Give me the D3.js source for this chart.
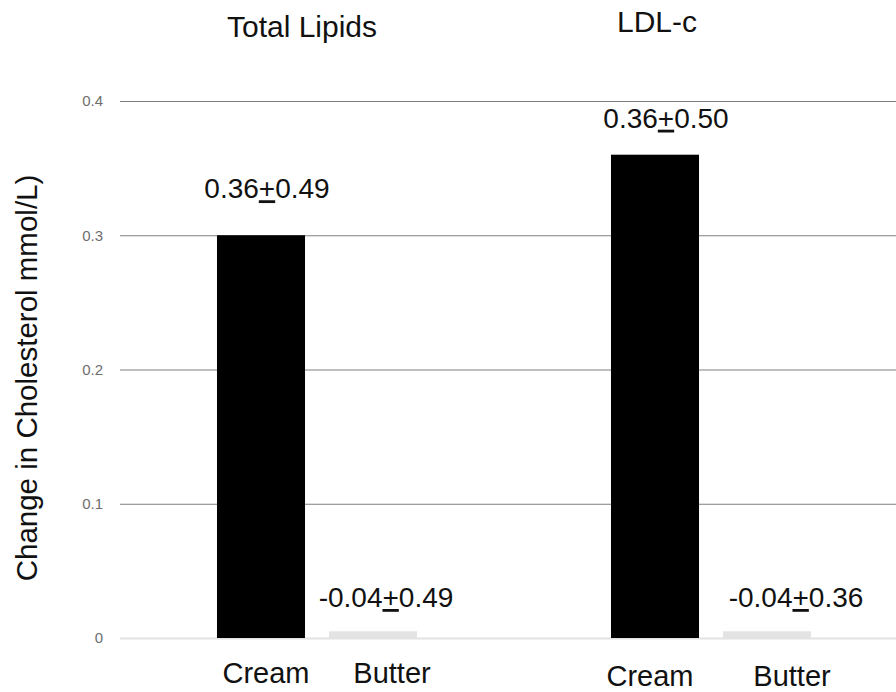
<!DOCTYPE html>
<html>
<head>
<meta charset="utf-8">
<script src="https://cdn.jsdelivr.net/npm/d3@7"></script>
<style>
  body { margin: 0; background: #fff; }
  svg { display: block; font-family: "Liberation Sans", Arial, sans-serif; }
</style>
</head>
<body>
<svg id="chart" width="896" height="692"></svg>
<script>
// data
const groups = ["Total Lipids", "LDL-c"];
const foods = ["Cream", "Butter"];
const cream_values = [0.30, 0.36];
const butter_values = [0.005, 0.005];
const label_means = [["0.36", "-0.04"], ["0.36", "-0.04"]];
const label_sds = [["0.49", "0.49"], ["0.50", "0.36"]];
const y_ticks = [0, 0.1, 0.2, 0.3, 0.4];

// hand placed text nudges (x offset from bar centre)
const value_dx = [[6, 13], [11, 29]];
const value_dy = [[-37, -25], [-27, -25]];
const cat_dx = [[5, 19], [-5, 25]];
const cat_y = [683, 686];
const title_dx = [-15, -54];
const title_y = [37, 32];

const svg = d3.select("svg#chart");
const margin = { left: 120, right: -12, top: 101, bottom: 54 };
const width = svg.attr("width") - margin.left - margin.right;
const height = svg.attr("height") - margin.top - margin.bottom;

const rows = [];
groups.forEach((g, gi) => {
  foods.forEach((f, fi) => {
    rows.push({
      group: g, gi: gi, food: f, fi: fi,
      value: fi === 0 ? cream_values[gi] : butter_values[gi],
      mean: label_means[gi][fi],
      sd: label_sds[gi][fi]
    });
  });
});

const x0 = d3.scaleBand(groups, [0, width]);
const x1 = d3.scaleBand(foods, [0, x0.bandwidth()])
  .paddingInner(0.214)
  .paddingOuter(0.866);
const y = d3.scaleLinear([0, 0.4], [height, 0]);

const chart = svg.append("g")
  .attr("transform", `translate(${margin.left}, ${margin.top})`);

// grid + ticks
const y_axis = chart.append("g")
  .call(d3.axisLeft(y).tickValues(y_ticks).tickSize(-width).tickPadding(17)
    .tickFormat(d => d === 0 ? "0" : d3.format(".1f")(d)));
y_axis.select(".domain").remove();
y_axis.selectAll(".tick line")
  .attr("stroke", d => d === 0 ? "#e2e2e2" : "#7f7f7f")
  .attr("stroke-width", d => d === 0 ? 2 : 1.2);
y_axis.selectAll(".tick text")
  .attr("fill", "#6e6e6e")
  .style("font-size", "15px")
  .style("font-family", "Liberation Sans, Arial, sans-serif");

const bar_x = d => x0(d.group) + x1(d.food);
const bar_c = d => bar_x(d) + x1.bandwidth() / 2;

chart.selectAll("rect.bar")
  .data(rows)
  .join("rect")
  .attr("class", "bar")
  .attr("x", bar_x)
  .attr("y", d => y(d.value))
  .attr("width", x1.bandwidth())
  .attr("height", d => y(0) - y(d.value))
  .attr("fill", d => d.fi === 0 ? "#000" : "#e3e3e3");

// value labels with underlined plus
const vals = chart.selectAll("text.value")
  .data(rows)
  .join("text")
  .attr("class", "value")
  .attr("x", d => bar_c(d) + value_dx[d.gi][d.fi])
  .attr("y", d => d.fi === 0 ? y(d.value) + value_dy[d.gi][d.fi] : y(0) + value_dy[d.gi][d.fi] - 6)
  .attr("text-anchor", "middle")
  .attr("fill", "#111")
  .style("font-size", "28px");
vals.append("tspan").text(d => d.mean);
vals.append("tspan").text("+").style("text-decoration", "underline");
vals.append("tspan").text(d => d.sd);

// category labels
svg.selectAll("text.cat")
  .data(rows)
  .join("text")
  .attr("class", "cat")
  .attr("x", d => margin.left + bar_c(d) + cat_dx[d.gi][d.fi])
  .attr("y", d => cat_y[d.gi])
  .attr("text-anchor", "middle")
  .attr("fill", "#111")
  .style("font-size", "29px")
  .text(d => d.food);

// group titles
svg.selectAll("text.title")
  .data(groups)
  .join("text")
  .attr("class", "title")
  .attr("x", (d, i) => margin.left + x0(d) + x0.bandwidth() / 2 + title_dx[i])
  .attr("y", (d, i) => title_y[i])
  .attr("text-anchor", "middle")
  .attr("fill", "#111")
  .style("font-size", "30px")
  .text(d => d);

svg.append("text")
  .attr("transform", "translate(37, 378) rotate(-90)")
  .attr("text-anchor", "middle")
  .attr("fill", "#111")
  .style("font-size", "29.5px")
  .text("Change in Cholesterol mmol/L)");
</script>
</body>
</html>
